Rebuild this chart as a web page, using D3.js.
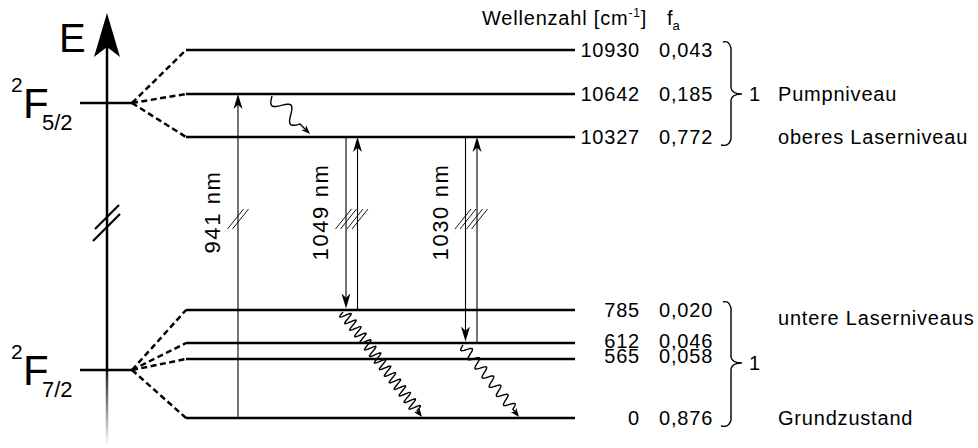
<!DOCTYPE html>
<html>
<head>
<meta charset="utf-8">
<script src="https://cdn.jsdelivr.net/npm/d3@7"></script>
<style>
  body { margin: 0; background: #fff; }
  svg { display: block; }
  text { font-family: "Liberation Sans", Arial, sans-serif; fill: #000; }
</style>
</head>
<body>
<svg id="chart" width="978" height="448"></svg>
<script>
// Stark levels of the 2F5/2 and 2F7/2 manifolds (wavenumber in cm^-1, Boltzmann fraction f_a)
const upperLevels = [10930, 10642, 10327];
const upperFa = ["0,043", "0,185", "0,772"];
const lowerLevels = [785, 612, 565, 0];
const lowerFa = ["0,020", "0,046", "0,058", "0,876"];

const manifoldNames = ["5/2", "7/2"];

// optical transitions: label, lower level, upper level
const transitionLabels = ["941 nm", "1049 nm", "1030 nm"];
const transitionLower = [0, 785, 612];
const transitionUpper = [10642, 10327, 10327];

// side annotations
const upperNotes = ["Pumpniveau", "oberes Laserniveau"];
const lowerNotes = ["untere Laserniveaus", "Grundzustand"];
const headerLabels = ["Wellenzahl [cm", "-1", "]"];

const svg = d3.select("#chart");
const FS = 20;          // font size of the right-hand table
const LS = 0.8;         // its letter spacing
const cap = FS * 0.36;  // baseline offset to centre digits on a level

// schematic (piecewise) energy scales for the two manifolds
const yUpper = d3.scaleLinear().domain([10327, 10642, 10930]).range([137, 94, 50]);
const yLower = d3.scaleLinear().domain([0, 565, 612, 785]).range([418, 359, 343, 310]);
const y = e => (e > 5000 ? yUpper(e) : yLower(e));

const xAxis = 107;
const xStubL = 80, xStubR = 132;
const xLevL = 186, xLevR = 575;
const manifoldY = [103, 370];

// ---- energy axis with arrow head and fading tail
const defs = svg.append("defs");
const fade = defs.append("linearGradient").attr("id", "fade")
  .attr("x1", 0).attr("y1", 0).attr("x2", 0).attr("y2", 1);
fade.append("stop").attr("offset", 0).attr("stop-color", "#222");
fade.append("stop").attr("offset", 1).attr("stop-color", "#fff");

svg.append("line").attr("x1", xAxis).attr("x2", xAxis).attr("y1", 45).attr("y2", 372)
  .attr("stroke", "#000").attr("stroke-width", 2.5);
svg.append("rect").attr("x", xAxis - 1.25).attr("y", 372).attr("width", 2.5).attr("height", 74)
  .attr("fill", "url(#fade)");
svg.append("path")
  .attr("d", `M${xAxis},13 L${xAxis + 13},57 L${xAxis},47 L${xAxis - 13},57 Z`)
  .attr("fill", "#000");
svg.append("text").attr("x", 59).attr("y", 52).attr("font-size", 40).text("E");

// axis break
[[95, 229, 119, 205], [93, 241, 120, 214]].forEach(d => {
  svg.append("line").attr("x1", d[0]).attr("y1", d[1]).attr("x2", d[2]).attr("y2", d[3])
    .attr("stroke", "#000").attr("stroke-width", 2.2);
});

// ---- manifolds: stub, term symbol, dashed splitting lines
const groups = [upperLevels, lowerLevels];
manifoldNames.forEach((name, i) => {
  const my = manifoldY[i];
  svg.append("line").attr("x1", xStubL).attr("x2", xStubR).attr("y1", my).attr("y2", my)
    .attr("stroke", "#000").attr("stroke-width", 2.5);
  const term = svg.append("text").attr("x", 11).attr("y", my - 11);
  term.append("tspan").attr("font-size", 21).text("2");
  term.append("tspan").attr("font-size", 42).attr("x", 23).attr("y", my + 15).text("F");
  term.append("tspan").attr("font-size", 22).attr("x", 42).attr("y", my + 27).text(name);
  svg.selectAll(null).data(groups[i]).enter().append("line")
    .attr("x1", xStubR).attr("y1", my)
    .attr("x2", xLevL).attr("y2", d => y(d))
    .attr("stroke", "#000").attr("stroke-width", 2.5)
    .attr("stroke-dasharray", "6,3.5");
});

// Stark levels
svg.selectAll(null).data(upperLevels.concat(lowerLevels)).enter().append("line")
  .attr("x1", xLevL).attr("x2", xLevR)
  .attr("y1", d => y(d)).attr("y2", d => y(d))
  .attr("stroke", "#000").attr("stroke-width", 2.6);

// ---- arrow helpers
function arrowHead(tipX, tipY, ux, uy, len, half) {
  const nx = -uy, ny = ux;
  const bx = tipX - ux * len, by = tipY - uy * len;
  const mx = tipX - ux * len * 0.72, my = tipY - uy * len * 0.72;
  svg.append("path")
    .attr("d", `M${tipX},${tipY} L${bx + nx * half},${by + ny * half} L${mx},${my} L${bx - nx * half},${by - ny * half} Z`)
    .attr("fill", "#000");
}
function vArrow(x, yFrom, yTo) {
  const dir = yTo < yFrom ? -1 : 1;
  svg.append("line").attr("x1", x).attr("x2", x).attr("y1", yFrom).attr("y2", yTo - dir * 10)
    .attr("stroke", "#000").attr("stroke-width", 1.1);
  arrowHead(x, yTo, 0, dir, 15, 4.5);
}
function slashes(x, yc) {
  [-2.5, 2.5].forEach(o => {
    svg.append("line").attr("x1", x + o - 8).attr("y1", yc + 10).attr("x2", x + o + 8).attr("y2", yc - 10)
      .attr("stroke", "#000").attr("stroke-width", 0.9);
  });
}
function wavy(x0, y0, x1, y1, periods, amp, tail) {
  const dx = x1 - x0, dy = y1 - y0, L = Math.hypot(dx, dy);
  const ux = dx / L, uy = dy / L, nx = -uy, ny = ux;
  const wl = L - tail, n = Math.ceil(periods * 24);
  const pts = d3.range(n + 1).map(i => {
    const t = i / n * wl;
    const off = amp * Math.sin(2 * Math.PI * periods * t / wl);
    return [x0 + ux * t + nx * off, y0 + uy * t + ny * off];
  });
  pts.push([x1 - ux * 5, y1 - uy * 5]);
  svg.append("path").attr("d", d3.line()(pts))
    .attr("fill", "none").attr("stroke", "#000").attr("stroke-width", 1.4);
  arrowHead(x1, y1, ux, uy, 9, 3.5);
}

// ---- transitions
const transX = [238, 352, 471.5];
const slashY = 219;
transitionLabels.forEach((lab, i) => {
  const yl = y(transitionLower[i]), yu = y(transitionUpper[i]);
  const cx = transX[i];
  let left = cx;
  if (i === 0) {
    vArrow(cx, yl, yu);            // pump absorption
    slashes(cx, slashY);
  } else {
    left = cx - 6;
    vArrow(cx - 6, yu, yl - 1.5);  // laser emission
    vArrow(cx + 5.5, yl, yu);      // re-absorption
    slashes(cx - 6, slashY);
    slashes(cx + 5.5, slashY);
  }
  svg.append("text")
    .attr("transform", `translate(${left - 18},${212}) rotate(-90)`)
    .attr("text-anchor", "middle")
    .attr("font-size", 22).attr("letter-spacing", 1.6).text(lab);
});

// non-radiative relaxation
wavy(272, y(10642) + 2, 310, y(10327) - 3, 1.5, 7, 14);
wavy(343, y(785) + 2, 422, y(0) - 1, 15, 5.5, 8);
wavy(463, y(612) + 2, 519, y(0) - 1, 7, 5, 10);

// ---- value columns
const xNum = 640, xFa = 659;
svg.append("text").attr("x", 482).attr("y", 25).attr("font-size", FS).attr("letter-spacing", LS)
  .call(t => {
    t.append("tspan").text(headerLabels[0]);
    t.append("tspan").attr("font-size", 12).attr("dy", -8).text(headerLabels[1]);
    t.append("tspan").attr("dy", 8).text(headerLabels[2]);
  });
svg.append("text").attr("x", 667).attr("y", 25).attr("font-size", FS)
  .call(t => {
    t.append("tspan").text("f");
    t.append("tspan").attr("font-size", 13).attr("dy", 5).text("a");
  });

// vertical nudge for the closely spaced 612/565 rows
const rowShift = e => (e === 612 ? -2 : e === 565 ? -3 : 0);
function column(levels, values, x, anchor) {
  const t = svg.append("text").attr("font-size", FS).attr("letter-spacing", LS)
    .attr("text-anchor", anchor);
  levels.forEach((e, i) => {
    t.append("tspan").attr("x", x).attr("y", y(e) + rowShift(e) + cap).text(values[i]);
  });
}
column(upperLevels, upperLevels, xNum, "end");
column(upperLevels, upperFa, xFa, "start");
column(lowerLevels, lowerLevels, xNum, "end");
column(lowerLevels, lowerFa, xFa, "start");

// ---- braces summing f_a to 1
function brace(x, y0, y1, ym) {
  const w = 9;
  const p = `M${x - 6},${y0 - 2} Q${x},${y0 - 4} ${x + 2},${y0 + 4}
    L${x + 2},${ym - 6} Q${x + 3},${ym} ${x + w + 4},${ym}
    Q${x + 3},${ym} ${x + 2},${ym + 6}
    L${x + 2},${y1 - 4} Q${x},${y1 + 4} ${x - 8},${y1 + 2}`;
  svg.append("path").attr("d", p).attr("fill", "none").attr("stroke", "#000").attr("stroke-width", 1.4);
}
brace(729, y(10930) - 6, y(10327) + 6, y(10642));
brace(729, y(785) - 6, y(0) + 6, 363);
svg.append("text").attr("x", 749).attr("y", y(10642) + cap).attr("font-size", FS).text("1");
svg.append("text").attr("x", 749).attr("y", 363 + cap).attr("font-size", FS).text("1");

svg.selectAll(null).data(upperNotes).enter().append("text")
  .attr("x", 778).attr("y", (d, i) => y(upperLevels[i + 1]) + cap)
  .attr("font-size", FS).attr("letter-spacing", LS).text(d => d);
svg.selectAll(null).data(lowerNotes).enter().append("text")
  .attr("x", 778).attr("y", (d, i) => (i === 0 ? y(785) + 8 : y(0)) + cap)
  .attr("font-size", FS).attr("letter-spacing", LS).text(d => d);
</script>
</body>
</html>
